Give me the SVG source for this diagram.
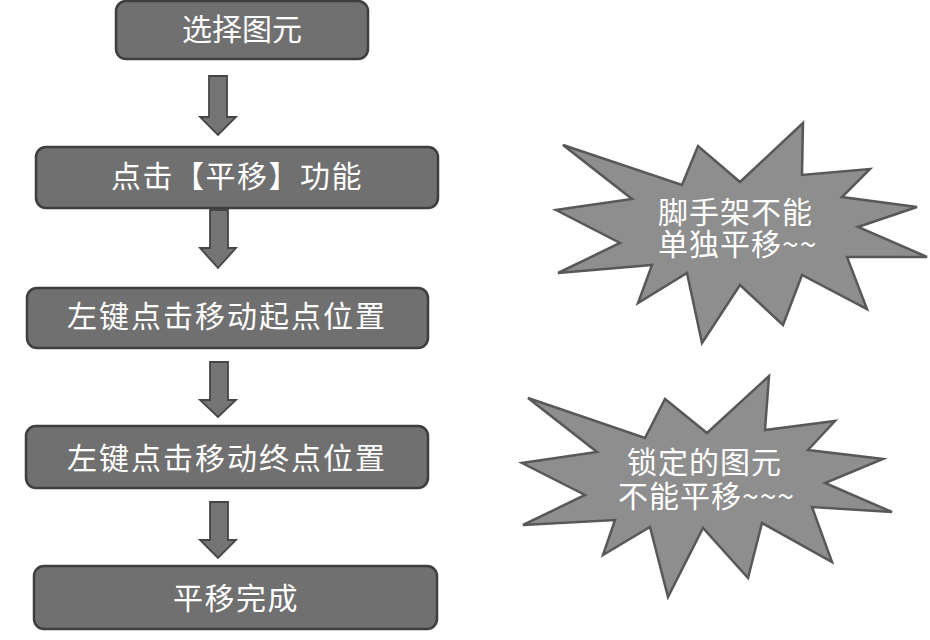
<svg xmlns="http://www.w3.org/2000/svg" width="930" height="640" viewBox="0 0 930 640">
<style>
.box{fill:#707070;stroke:#3e3e3e;stroke-width:2.5}
.arr{fill:#747474;stroke:#454545;stroke-width:1.8;stroke-linejoin:miter}
.burst{fill:#8e8e8e;stroke:#585858;stroke-width:2.5;stroke-linejoin:miter}
.t{font-family:"Noto Sans CJK SC","Liberation Sans",sans-serif;font-size:30px;fill:#ffffff;text-anchor:middle}
.bt{font-family:"Noto Sans CJK SC","Liberation Sans",sans-serif;font-size:30px;fill:#ffffff;letter-spacing:1px}
.wide{letter-spacing:2px}
</style>
<rect width="930" height="640" fill="#ffffff"/>
<g id="n1"><rect class="box" x="116" y="1" width="252" height="58" rx="10"/><text class="t" x="242" y="40">选择图元</text></g>
<g id="n2"><rect class="box" x="36" y="147" width="402" height="61" rx="10"/><text class="t" x="237" y="187" style="letter-spacing:1.5px">点击【平移】功能</text></g>
<g id="n3"><rect class="box" x="27" y="288" width="401" height="60" rx="10"/><text class="t wide" x="227" y="327">左键点击移动起点位置</text></g>
<g id="n4"><rect class="box" x="26" y="426" width="402" height="62" rx="10"/><text class="t wide" x="227" y="469">左键点击移动终点位置</text></g>
<g id="n5"><rect class="box" x="34" y="566" width="403" height="63" rx="10"/><text class="t" x="236" y="609" style="letter-spacing:1.5px">平移完成</text></g>
<g id="connectors">
<polygon class="arr" points="209,76 227,76 227,117 236,117 218,135 200,117 209,117"/>
<polygon class="arr" points="210,210 228,210 228,248 236,248 218,268 200,248 210,248"/>
<polygon class="arr" points="210,362 228,362 228,400 236,400 218,417 200,400 210,400"/>
<polygon class="arr" points="210,502 228,502 228,540 236,540 218,558 200,540 210,540"/>
</g>
<g id="burst1">
<polygon class="burst" points="563,145 682,185 698,146 740,182 803,123 802,175 870,169 842,197 917,207 858,227 927,257 847,257 867,309 802,275 783,325 740,285 702,343 687,273 638,303 652,265 558,273 620,243 556,210 632,199"/>
<text class="bt"><tspan x="658" y="223">脚手架不能</tspan><tspan x="658" y="255">单独平移~~</tspan></text>
</g>
<g id="burst2">
<polygon class="burst" points="528,398 645,438 665,399 707,433 769,376 765,430 835,421 808,450 883,459 825,483 892,512 812,507 832,562 762,523 748,578 703,528 668,597 650,527 603,555 615,520 523,525 585,495 522,463 597,452"/>
<text class="bt"><tspan x="627" y="473">锁定的图元</tspan><tspan x="618" y="507">不能平移~~~</tspan></text>
</g>
</svg>
